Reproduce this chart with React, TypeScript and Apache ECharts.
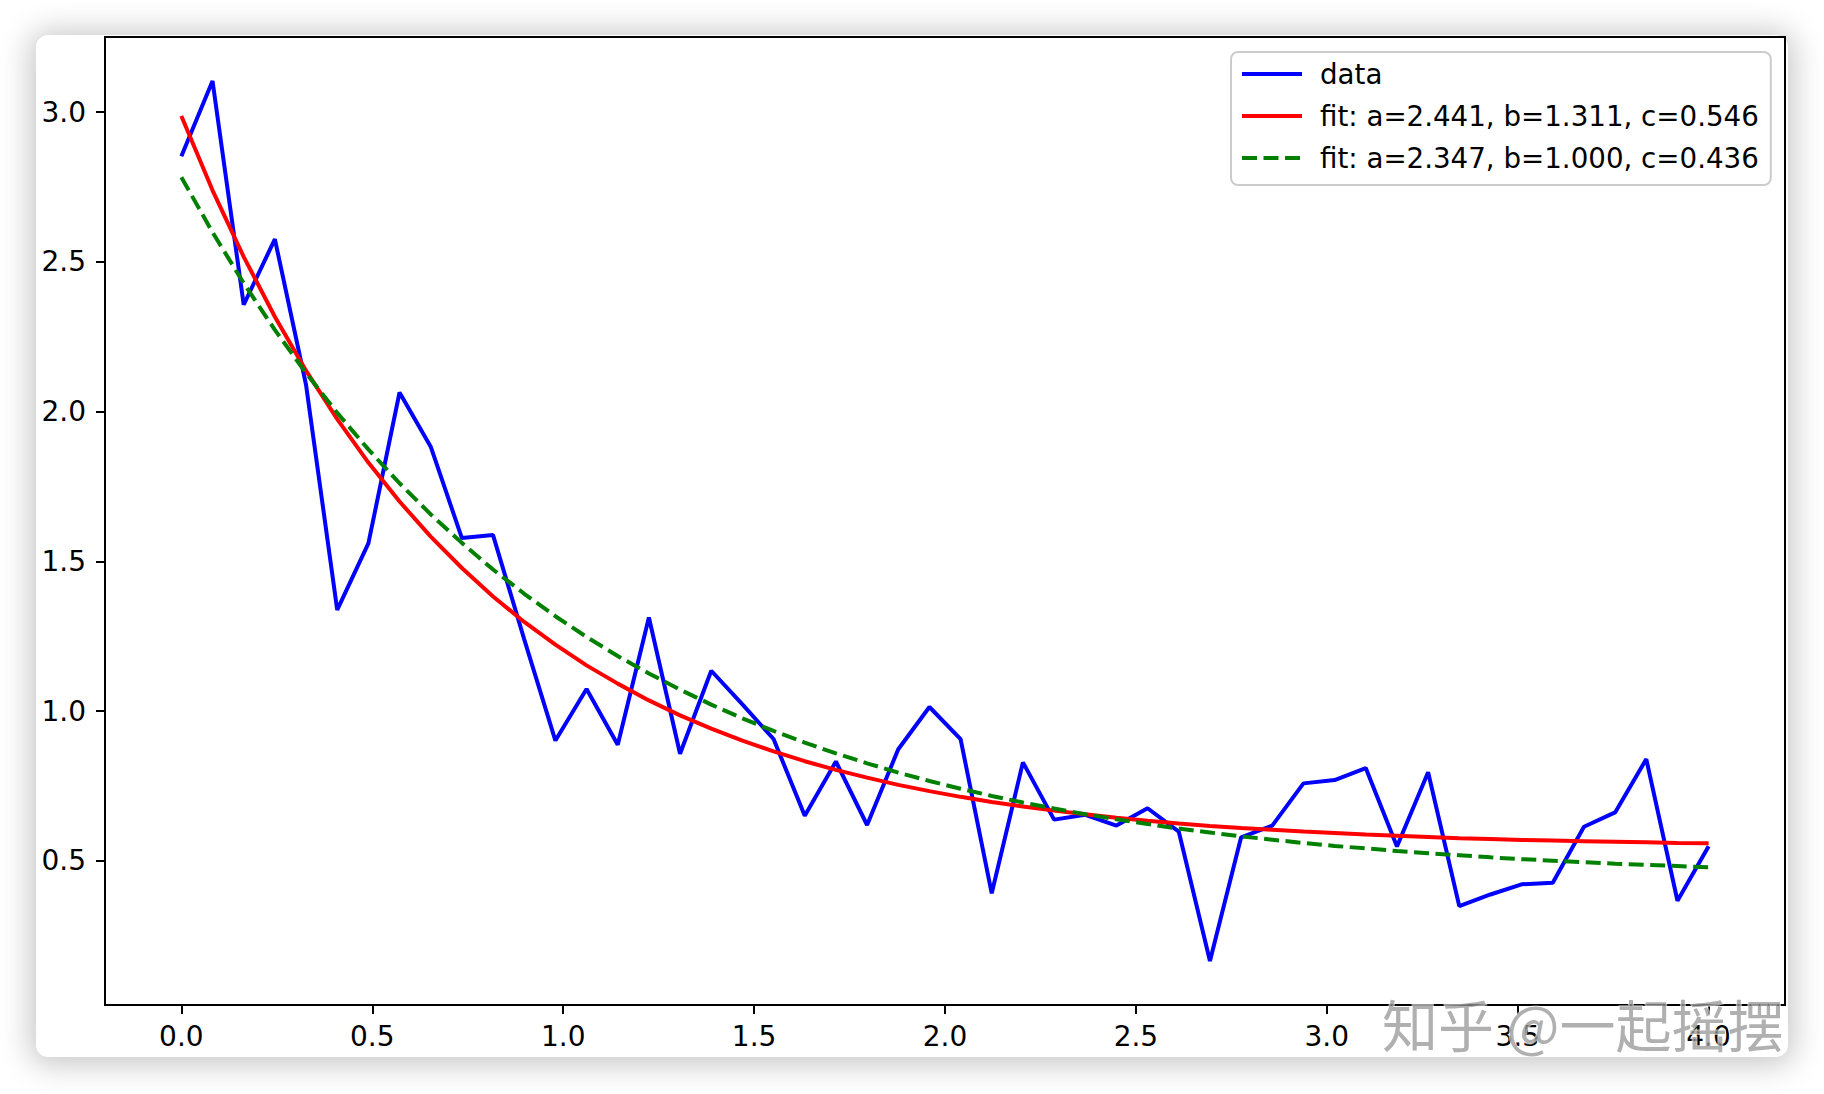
import React, { useEffect, useRef } from "react";
import * as echarts from "echarts";

const xValues = [
  0, 0.0816, 0.1633, 0.2449, 0.3265, 0.4082, 0.4898, 0.5714, 0.6531, 0.7347,
  0.8163, 0.898, 0.9796, 1.0612, 1.1429, 1.2245, 1.3061, 1.3878, 1.4694, 1.551,
  1.6327, 1.7143, 1.7959, 1.8776, 1.9592, 2.0408, 2.1224, 2.2041, 2.2857, 2.3673,
  2.449, 2.5306, 2.6122, 2.6939, 2.7755, 2.8571, 2.9388, 3.0204, 3.102, 3.1837,
  3.2653, 3.3469, 3.4286, 3.5102, 3.5918, 3.6735, 3.7551, 3.8367, 3.9184, 4.0,
];

const dataValues = [
  2.853, 3.104, 2.357, 2.576, 2.09, 1.338, 1.56, 2.064, 1.883, 1.578,
  1.588, 1.24, 0.902, 1.074, 0.888, 1.313, 0.858, 1.135, 1.023, 0.907,
  0.651, 0.832, 0.62, 0.873, 1.014, 0.907, 0.392, 0.829, 0.638, 0.654,
  0.618, 0.676, 0.598, 0.166, 0.579, 0.618, 0.759, 0.77, 0.81, 0.548,
  0.796, 0.349, 0.388, 0.422, 0.427, 0.614, 0.662, 0.84, 0.367, 0.549,
];

const fitRedValues = [
  2.987, 2.739, 2.517, 2.317, 2.137, 1.975, 1.83, 1.7, 1.583, 1.478,
  1.383, 1.298, 1.222, 1.153, 1.092, 1.036, 0.986, 0.942, 0.902, 0.866,
  0.833, 0.804, 0.778, 0.754, 0.733, 0.714, 0.697, 0.682, 0.668, 0.656,
  0.644, 0.634, 0.625, 0.617, 0.61, 0.604, 0.598, 0.593, 0.588, 0.584,
  0.58, 0.576, 0.573, 0.57, 0.568, 0.566, 0.564, 0.562, 0.56, 0.559,
];

const fitGreenValues = [
  2.783, 2.599, 2.429, 2.273, 2.129, 1.996, 1.874, 1.761, 1.657, 1.562,
  1.473, 1.392, 1.317, 1.248, 1.184, 1.126, 1.072, 1.022, 0.976, 0.934,
  0.895, 0.859, 0.826, 0.795, 0.767, 0.741, 0.717, 0.695, 0.675, 0.656,
  0.639, 0.623, 0.608, 0.595, 0.582, 0.571, 0.56, 0.55, 0.542, 0.533,
  0.526, 0.519, 0.512, 0.506, 0.501, 0.496, 0.491, 0.487, 0.483, 0.479,
];

const xTickValues = [0, 0.5, 1.0, 1.5, 2.0, 2.5, 3.0, 3.5, 4.0];
const yTickValues = [0.5, 1.0, 1.5, 2.0, 2.5, 3.0];

const seriesNames = [
  "data",
  "fit: a=2.441, b=1.311, c=0.546",
  "fit: a=2.347, b=1.000, c=0.436",
];

const watermarkText = "知乎 @一起摇摆";

const FONT = "DejaVu Sans";

export default function App() {
  const ref = useRef<HTMLDivElement>(null);

  useEffect(() => {
    if (!ref.current) return;
    const chart = echarts.init(ref.current, null, { renderer: "svg" });

    const pairs = (ys: number[]) => xValues.map((x, i) => [x, ys[i]]);

    const axisCommon = {
      type: "value",
      splitLine: { show: false },
      axisLine: { show: true, onZero: false, lineStyle: { color: "#000", width: 2 } },
    };

    chart.setOption({
      animation: false,
      backgroundColor: "transparent",
      grid: {
        left: 105,
        right: 39,
        top: 37,
        bottom: 89,
        show: true,
        borderColor: "#000",
        borderWidth: 2,
        backgroundColor: "transparent",
        containLabel: false,
        outerBoundsMode: "none",
      },
      xAxis: {
        ...axisCommon,
        min: -0.2,
        max: 4.2,
        axisTick: {
          show: true,
          customValues: xTickValues,
          length: 9,
          lineStyle: { color: "#000", width: 2 },
        },
        axisLabel: {
          customValues: xTickValues,
          formatter: (v: number) => v.toFixed(1),
          fontSize: 28,
          fontFamily: FONT,
          color: "#000",
          margin: 17,
        },
      },
      yAxis: {
        ...axisCommon,
        min: 0.019,
        max: 3.251,
        axisTick: {
          show: true,
          customValues: yTickValues,
          length: 9,
          lineStyle: { color: "#000", width: 2 },
        },
        axisLabel: {
          customValues: yTickValues,
          formatter: (v: number) => v.toFixed(1),
          fontSize: 28,
          fontFamily: FONT,
          color: "#000",
          margin: 19,
        },
      },
      legend: {
        data: seriesNames,
        orient: "vertical",
        left: 1231,
        top: 52,
        itemWidth: 60,
        itemHeight: 14,
        itemGap: 8,
        padding: [5, 12, 10, 9],
        backgroundColor: "rgba(255,255,255,0.8)",
        borderColor: "#cccccc",
        borderWidth: 2,
        borderRadius: 7,
        itemStyle: { opacity: 0 },
        lineStyle: { width: 4 },
        textStyle: {
          fontSize: 27.7,
          fontFamily: FONT,
          color: "#000",
          lineHeight: 34,
          padding: [0, 0, 0, 13],
        },
      },
      series: [
        {
          name: seriesNames[0],
          type: "line",
          data: pairs(dataValues),
          symbol: "none",
          color: "#0000ff",
          lineStyle: { color: "#0000ff", width: 4 },
        },
        {
          name: seriesNames[1],
          type: "line",
          data: pairs(fitRedValues),
          symbol: "none",
          color: "#ff0000",
          lineStyle: { color: "#ff0000", width: 4 },
        },
        {
          name: seriesNames[2],
          type: "line",
          data: pairs(fitGreenValues),
          symbol: "none",
          color: "#008000",
          lineStyle: { color: "#008000", width: 4, type: [15, 6.5] },
        },
      ],
      graphic: [
        {
          type: "text",
          x: 1382,
          y: 1022,
          z: 100,
          silent: true,
          style: {
            text: watermarkText,
            fontSize: 56,
            fontFamily: "Noto Sans CJK SC",
            fill: "rgba(150,150,150,0.75)",
            stroke: "rgba(255,255,255,0.6)",
            lineWidth: 2,
            textAlign: "left",
            textVerticalAlign: "middle",
          },
        },
      ],
    });

    return () => chart.dispose();
  }, []);

  return (
    <div
      style={{
        position: "fixed",
        left: 0,
        top: 0,
        width: 1824,
        height: 1094,
        background: "#ffffff",
        overflow: "hidden",
      }}
    >
      <div
        style={{
          position: "absolute",
          left: 36,
          top: 35,
          width: 1752,
          height: 1022,
          background: "#ffffff",
          borderRadius: 12,
          boxShadow: "0 2px 30px 6px rgba(0,0,0,0.22)",
        }}
      />
      <div
        ref={ref}
        style={{ position: "absolute", left: 0, top: 0, width: 1824, height: 1094 }}
      />
    </div>
  );
}
